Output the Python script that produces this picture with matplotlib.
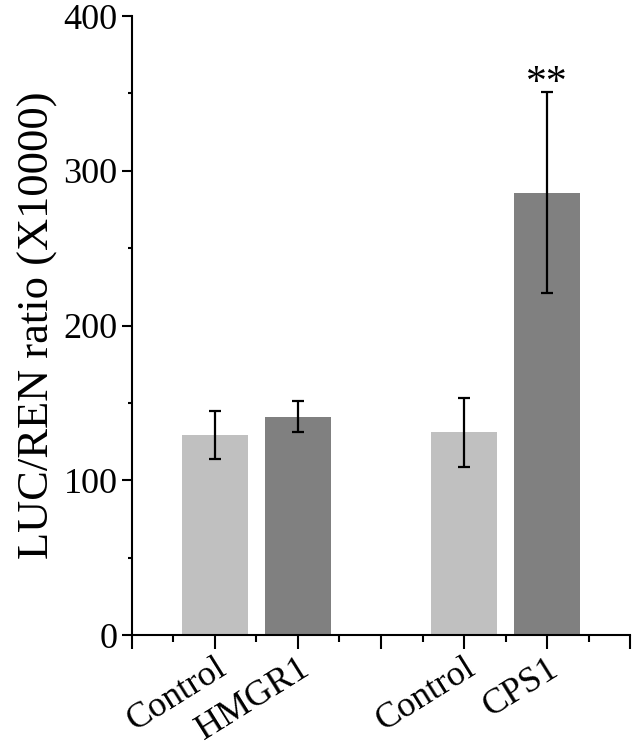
import matplotlib
matplotlib.use("Agg")
import matplotlib.pyplot as plt
import matplotlib.transforms as mtransforms
from matplotlib.ticker import MultipleLocator

# data
positions = [1, 2, 4, 5]
labels = ["Control", "HMGR1", "Control", "CPS1"]
values = [129.3, 141.2, 131.0, 285.9]
errors = [15.5, 10.2, 22.3, 65.1]
colors = ["#c0c0c0", "#808080", "#c0c0c0", "#808080"]
sig_marks = ["", "", "", "**"]

plt.rcParams["font.family"] = ["Liberation Serif", "DejaVu Serif"]

fig = plt.figure(figsize=(6.33, 7.48), dpi=100)
ax = fig.add_axes([0.2085, 0.151, 0.7868, 0.8276])

ax.bar(positions, values, width=0.8, color=colors, zorder=1)
ax.errorbar(positions, values, yerr=errors, fmt="none", ecolor="black",
            elinewidth=1.6, capsize=4.5, capthick=1.6, zorder=2)
for x, v, e, s in zip(positions, values, errors, sig_marks):
    if s:
        ax.text(x, v + e - 7, s, ha="center", va="bottom", fontsize=30)

ax.set_xlim(0, 6)
ax.set_ylim(0, 400)
ax.set_xticks(range(7))
tick_labels = [""] * 7
for p, l in zip(positions, labels):
    tick_labels[p] = l
ax.set_xticklabels(tick_labels, rotation=32, ha="right", va="top",
                   rotation_mode="anchor", fontsize=26)
offset = mtransforms.ScaledTranslation(18 / 72, 9 / 72, fig.dpi_scale_trans)
for t in ax.get_xticklabels():
    t.set_transform(t.get_transform() + offset)
ax.xaxis.set_minor_locator(MultipleLocator(0.5))

ax.yaxis.set_major_locator(MultipleLocator(100))
ax.yaxis.set_minor_locator(MultipleLocator(50))
ax.tick_params(axis="y", which="major", labelsize=26, length=7, width=1.5)
ax.tick_params(axis="y", which="minor", length=3, width=1.5)
ax.tick_params(axis="x", which="major", length=10, width=1.5, pad=2)
ax.tick_params(axis="x", which="minor", length=5, width=1.5)
ax.set_ylabel("LUC/REN ratio (X10000)", fontsize=32, labelpad=4)

for side in ("top", "right"):
    ax.spines[side].set_visible(False)
for side in ("left", "bottom"):
    ax.spines[side].set_linewidth(1.5)

fig.savefig("out.png", dpi=100)
